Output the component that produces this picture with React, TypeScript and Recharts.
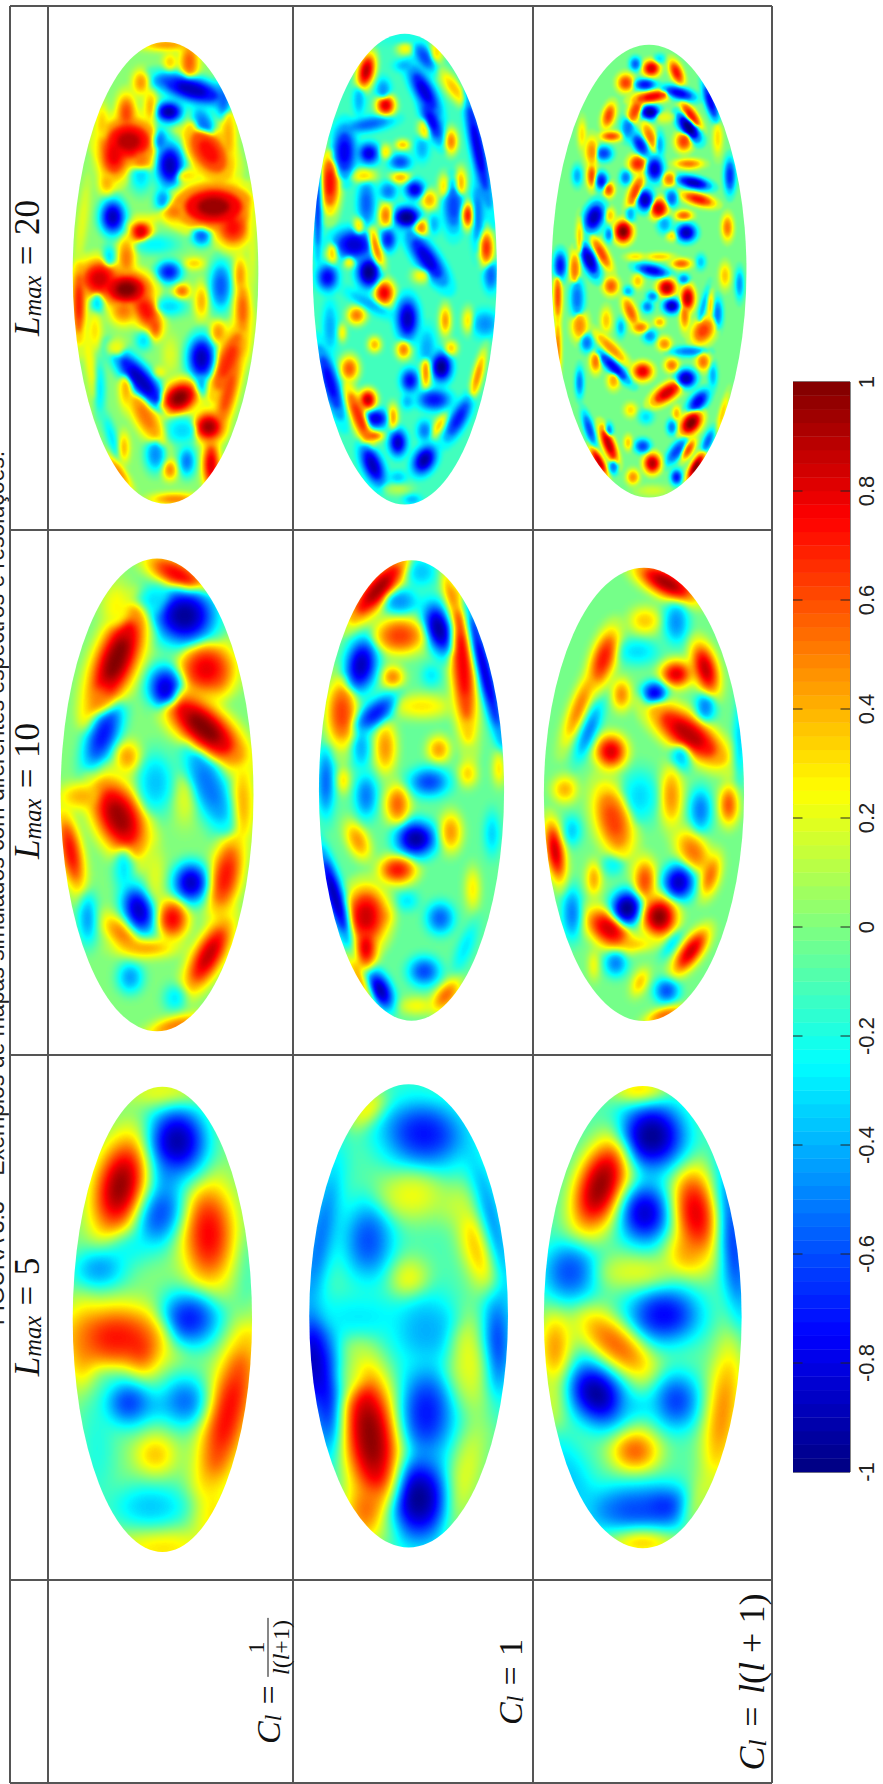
import { ReactNode } from 'react';
import { ScatterChart, Scatter, XAxis, YAxis, ReferenceArea } from 'recharts';

// one feature of a map: x, y, value, half length x, half length y, tilt
type Feature = [number, number, number, number, number, number?];

const XS = 1 / 2.063;
const YS = 1 / 2.904;
const PAD = 18;

// Lmax = 20
const mapA1: Feature[] = [
  [345,130,.45,40,12],[390,180,.55,14,40],[350,180,.35,10,18],[290,240,.45,12,25],[395,260,-.85,55,25,25],[345,235,-.6,20,14],
  [460,290,-.55,12,40],[348,325,-.9,20,22],[260,330,.6,14,40],[210,360,.35,10,40],[310,310,.4,10,35],[265,410,.85,40,45],
  [235,450,.75,22,50],[290,460,.5,20,30],[420,360,-.5,16,40,-15],[430,440,.7,30,60,-20],[470,400,.4,12,70],[350,480,-.85,20,45],
  [330,410,-.5,12,30],[220,530,.4,12,25],[290,510,-.3,16,35],[385,510,.3,25,15],[440,600,.9,55,45],[480,660,.7,25,40],
  [360,615,.5,20,22],[335,580,-.45,12,25],[232,630,-.85,18,35],[290,672,.8,16,25],[415,685,-.55,14,20],[320,710,-.25,35,20],
  [260,750,.5,13,45],[225,745,-.3,10,25],[348,790,-.7,18,22],[400,765,.35,15,12],[455,830,-.55,16,50],[495,800,.45,10,40],
  [260,840,.95,35,35],[205,810,.8,30,40],[300,900,.7,20,45,-15],[320,950,.6,10,25],[255,900,.5,20,30],[375,845,.55,12,15],
  [415,875,.4,10,35],[162,880,.7,10,80],[200,880,-.3,10,25],[350,890,-.3,25,20],[500,900,.55,12,60],[450,965,.45,12,25],
  [195,960,.3,10,40],[295,990,-.3,12,20],[415,1040,-.85,20,45],[415,1110,-.4,10,30],[470,1050,.65,20,80,15],[500,1000,.4,10,40],
  [290,1105,-.85,20,70,-30],[330,1080,.25,10,12],[370,1155,.95,25,35,25],[470,1140,.6,14,90,10],[205,1130,-.3,8,60],
  [300,1210,.5,18,60,-20],[260,1130,.4,10,40],[375,1250,-.3,25,30],[430,1240,.9,22,30],[435,1350,.8,12,50],[255,1300,.4,8,30],
  [320,1320,-.45,15,35],[385,1340,-.5,12,30],[350,1365,.5,10,20],[245,1370,.5,8,40,-25],[360,1450,.5,35,12],[230,1270,-.3,8,50,-12],
  [185,1050,.25,8,100,-6],[180,1220,.22,6,90,-10],[520,700,.2,6,120],[300,640,.25,30,10,-20],[170,640,.2,8,90,5],[240,1010,.22,14,20],[350,1030,.18,12,40],
];
const mapA2: Feature[] = [
  [835,110,-.2,40,15],[835,140,.25,12,14],[875,165,-.6,12,30,-20],[755,205,.85,12,35,8],[835,190,-.4,15,12],[900,150,.3,10,25],
  [935,255,.35,12,40,-25],[875,265,-.8,14,50,-20],[790,260,-.45,10,22],[740,290,-.4,8,30],[795,305,.8,13,20],[890,350,-.75,12,45,-15],
  [760,360,-.55,35,14,-15],[985,430,-.8,10,110,-8],[930,410,.5,9,25],[875,375,.3,9,25],[710,440,-.75,16,50],[760,445,-.8,14,20],
  [830,420,.4,10,10],[795,440,.3,8,15],[825,470,-.6,15,15],[870,430,-.4,10,25],[750,510,.3,18,15],[825,515,.4,14,12],
  [680,530,.7,14,60],[655,600,-.7,5,100],[855,550,-.8,13,18],[800,555,-.5,12,18],[885,580,.4,12,20],[915,540,.3,8,25],
  [950,530,.4,8,30],[755,590,-.55,12,45],[795,625,.5,10,25],[838,630,-1,18,20],[935,600,-.6,14,50],[965,625,.7,9,25],
  [868,660,.5,10,18],[895,650,-.4,8,20],[985,620,-.5,9,70],[740,655,.3,8,20],[730,710,-.8,28,30,-30],[800,695,-.7,11,22],
  [775,720,.5,9,45,-10],[1003,720,.65,10,35],[880,750,-.8,16,55,-25],[720,760,.3,8,12],[685,735,.35,8,22],[675,805,-.75,14,25],
  [760,790,-.95,16,30],[868,800,.25,13,15],[1012,800,-.55,10,30],[792,850,.75,14,25],[735,915,.5,13,18],[840,925,-.85,15,40],
  [918,930,.45,8,30],[965,930,.3,8,25],[1000,940,-.45,18,25],[760,880,-.4,40,12,40],[680,950,-.4,10,50],[705,965,.3,6,18],
  [772,1000,.4,9,15],[832,1015,.5,10,18],[880,1010,-.4,12,40],[930,1010,.35,9,15],[910,1065,-.95,14,28],[878,1080,.5,7,35],
  [720,1070,.55,13,25],[985,1090,.5,7,50,10],[845,1105,-.75,12,22],[680,1110,-.75,12,70,-12],[758,1160,.85,12,20],[895,1160,-.7,22,20],
  [840,1165,-.4,8,15],[775,1215,-.8,16,18],[810,1210,.45,7,25],[740,1210,.65,12,65,-15],[770,1265,.6,14,10],[945,1215,-.7,12,45,20],
  [875,1250,-.5,10,20],[820,1285,-.85,12,25],[905,1235,.35,8,25,20],[875,1335,-.9,15,28,15],[768,1350,-.85,14,40,-15],[820,1385,-.35,12,12],
  [850,1450,-.4,12,10],[820,1420,.1,20,12],
];
const mapA3: Feature[] = [
  [1343,198,.8,12,16],[1395,210,.7,9,25,-15],[1310,185,-.55,8,14],[1290,240,.6,12,18],[1330,245,-.7,15,12],[1360,170,-.3,8,10],
  [1345,280,.75,28,12,-15],[1400,270,-.75,25,12,25],[1465,295,-.75,8,40,-12],[1310,320,.6,10,30,15],[1340,325,-.9,14,15],[1255,335,.6,9,25,10],
  [1425,335,.7,9,30,-25],[1420,370,-.95,12,30,-25],[1370,340,.2,14,12],[1260,395,.6,15,10],[1295,370,-.5,10,25],[1340,395,.5,9,30,-15],
  [1320,420,-.7,10,25,-20],[1360,420,-.4,7,25],[1410,410,.6,12,20],[1220,440,.45,10,30],[1245,445,-.6,12,15],[1200,390,.3,6,30],
  [1315,475,.65,13,18],[1350,490,-.8,12,25],[1420,475,.5,20,10],[1480,400,.3,7,35],[1190,510,-.4,7,20],[1220,510,.6,7,25],
  [1240,525,-.7,9,18],[1290,515,-.5,8,15],[1380,520,.5,10,15],[1430,530,-.85,25,12,20],[1505,510,-.65,8,35],[1255,550,.6,8,15],
  [1310,555,.6,9,35,15],[1330,580,-.85,12,22],[1385,575,-.55,9,18],[1440,578,.7,25,12,25],[1358,605,.8,13,20],[1225,630,-.85,14,30,10],
  [1258,625,.35,7,15],[1300,620,-.4,7,18],[1410,625,.55,12,10],[1285,672,.95,13,22],[1415,675,-.85,14,18],[1370,650,-.4,10,18],
  [1255,680,-.5,6,15],[1500,660,.5,8,25],[1195,690,.35,5,40],[1385,685,.3,8,10],[1240,735,.6,9,35,-20],[1215,755,-.85,11,35,-15],
  [1155,770,-.7,9,28],[1185,780,.5,8,35],[1360,745,.35,20,8],[1310,745,.3,14,8],[1405,765,.55,14,10],[1345,785,-.75,24,12,20],
  [1445,760,-.35,7,15],[1495,800,.35,8,25],[1410,810,-.5,8,10],[1315,815,.35,8,15],[1260,830,.55,11,18],[1375,835,.85,13,18],
  [1295,845,-.4,7,10],[1525,825,-.45,6,30],[1345,860,-.5,8,10],[1418,865,.85,10,25],[1190,865,-.5,10,40],[1150,860,.6,6,50],
  [1385,888,-.85,12,15],[1335,890,-.5,8,12],[1300,905,.55,9,30,-15],[1412,915,.5,7,30],[1450,890,-.4,5,40,10],[1480,910,-.5,7,30],
  [1465,885,.35,5,30],[1250,930,.35,8,25],[1195,945,.45,12,30],[1450,960,.6,16,28,15],[1320,950,.5,12,12],[1360,935,.4,8,10],
  [1340,975,-.45,10,14],[1280,950,-.4,6,18],[1210,995,-.5,9,18],[1370,998,.45,10,14],[1260,1010,.45,10,40,-35],[1420,1020,-.5,25,10],
  [1150,1010,.5,5,60],[1228,1050,.5,8,22],[1265,1065,-.75,10,38,-35],[1385,1060,.5,10,14],[1450,1050,.5,10,18],[1325,1078,.75,14,18],
  [1415,1098,-.85,14,18],[1470,1090,-.4,6,25],[1265,1105,.4,9,18],[1375,1140,.8,14,30,40],[1195,1110,-.5,6,30],[1440,1165,-.75,12,25,25],
  [1300,1190,.3,9,14],[1332,1210,-.3,10,14],[1425,1228,.95,14,25,20],[1395,1200,.4,6,15],[1385,1240,-.5,7,15],[1215,1245,-.6,7,35,-12],
  [1255,1290,.85,9,38,-15],[1255,1250,-.5,6,15],[1325,1295,-.6,11,14],[1295,1285,.35,6,15],[1460,1280,-.55,7,25,15],[1395,1310,-.6,10,28,25],
  [1420,1305,.6,7,22,20],[1235,1340,.85,7,30,-20],[1345,1345,.85,12,20],[1265,1355,-.5,7,15],[1305,1385,.45,9,15],[1395,1385,-.7,8,15],
  [1435,1355,.95,8,30,20],[1345,1425,.15,25,12],[1490,1200,.35,5,40,10],
];

// Lmax = 10
const mapB1: Feature[] = [
  [365,215,.75,28,60,-50],[380,335,-.9,50,65],[320,290,-.3,30,40],[240,460,.95,35,120,15],[240,310,.25,25,60],[205,570,.5,20,60,20],
  [425,490,.75,45,60],[450,500,.6,20,50],[340,545,-.8,28,50],[212,680,-.7,25,80,15],[420,660,.95,40,95,-35],[262,745,.45,20,35],
  [320,820,-.35,30,70],[430,830,-.5,30,110,-15],[380,870,.18,18,60],[245,920,.9,40,90,-15],[170,860,.4,40,30],[145,1020,.75,18,90,-8],
  [500,880,.4,18,100],[465,1090,.7,25,90,8],[393,1110,-.85,28,45],[255,1070,-.3,16,60],[285,1190,-.85,25,55,-10],[180,1215,-.45,15,60],
  [355,1215,.75,25,45],[250,1260,.5,22,50,-30],[300,1300,.45,50,20],[430,1320,.85,25,85,20],[268,1385,-.45,20,35],[360,1445,-.3,18,30],
  [360,1525,.55,50,18,-25],[320,1090,.2,14,70],
];
const mapB2: Feature[] = [
  [780,260,.9,25,85,30],[870,210,-.35,25,35],[825,295,-.45,30,30],[825,395,.6,42,42],[905,375,-.9,22,60,-10],[955,480,.75,20,170,-3],
  [930,280,.5,10,60,-10],[1000,500,-.85,13,170,-10],[745,480,-.85,25,60,5],[810,515,.5,18,25],[890,510,-.3,16,25],[870,600,.28,50,28],
  [705,620,.6,25,80],[775,620,-.7,22,50,35],[745,720,-.4,16,50],[795,720,.45,18,60],[905,725,.45,18,30],[965,795,.35,15,30],
  [885,820,-.6,32,32],[1030,780,.35,10,40],[672,820,-.55,14,80],[708,815,.35,10,30],[755,860,-.5,18,50],[820,885,.55,20,45],
  [858,985,-.9,32,40],[930,965,.45,18,45],[738,990,.45,18,45,-15],[1015,970,-.35,12,50],[820,1075,.7,30,32],[690,1150,-.9,15,110,-12],
  [755,1210,.8,35,70],[755,1300,.8,18,50],[790,1210,.5,15,25],[840,1165,-.3,18,22],[908,1215,-.55,22,35],[975,1130,.3,12,50],
  [875,1370,-.6,25,32],[785,1425,-.9,18,45,-15],[745,1400,.55,8,70,-20],[920,1440,.55,18,40,25],[960,1300,-.3,13,60,15],[860,1470,.25,30,20],
];
const mapB3: Feature[] = [
  [1375,240,.9,28,60,-50],[1330,350,.35,25,30],[1395,355,-.45,20,50],[1245,460,.7,20,70,12],[1195,600,.5,15,90,15],[1315,440,-.3,35,30],
  [1395,505,.8,25,30],[1455,490,.85,20,60,-10],[1282,565,.5,15,35],[1350,560,-.8,20,25],[1455,600,-.5,16,35],[1420,680,.85,35,85,-40],
  [1215,670,-.5,14,70,15],[1260,730,.8,25,38],[1405,745,-.35,18,35],[1525,700,-.4,8,100],[1165,840,.4,20,30],[1320,860,-.3,30,60],
  [1385,860,.45,18,70],[1445,900,-.5,18,50],[1503,885,.6,15,45],[1265,930,.6,30,85,-10],[1145,1020,.85,15,70,-6],[1180,960,-.35,15,35],
  [1430,1020,.5,25,50,-20],[1465,1090,.55,15,50,10],[1265,1060,-.25,20,25],[1225,1100,.45,12,40],[1330,1105,.6,18,50],[1400,1110,-.85,25,40],
  [1293,1185,-.95,25,40],[1180,1200,-.5,16,60],[1360,1210,.95,28,45],[1255,1245,.8,30,50,-30],[1300,1290,.4,40,15],[1425,1310,.85,18,55,25],
  [1385,1290,-.35,10,35,25],[1270,1345,-.5,18,30],[1225,1350,.3,8,35],[1320,1400,.4,12,32,15],[1375,1425,-.6,20,28],[1370,1495,.6,14,35,60],
];

// Lmax = 5
const mapC1: Feature[] = [
  [247,540,.95,42,115,8],[365,410,-.9,50,85],[330,620,-.6,38,80,10],[345,500,-.5,30,60],[430,680,.75,42,120],[205,780,-.45,45,50,30],
  [270,720,-.25,40,40],[390,925,-.7,50,65],[240,980,.7,85,75],[170,1000,.5,25,100],[290,1010,.7,30,60],[265,1170,-.65,40,55],
  [380,1165,-.55,40,60],[320,1180,-.4,30,30],[470,1200,.75,35,200,10],[320,1320,.4,32,45],[310,1470,-.35,70,55],[335,1590,.3,80,45],
  [335,270,.25,60,30],[440,1500,.3,30,100],[200,1300,-.2,30,150],[510,800,-.15,14,100],[230,1085,-.25,40,12,-5],
];
const mapC2: Feature[] = [
  [760,320,.4,18,50,30],[875,390,-.7,70,80,-20],[850,570,.22,60,60],[950,600,.15,40,50],[985,720,.42,25,110,-10],[760,700,-.6,40,90],
  [845,810,.25,32,50],[660,700,-.6,20,200,8],[645,1050,-.9,30,130],[680,1150,-.8,20,150],[1025,1000,-.7,22,130],[1015,650,-.65,14,180,-10],
  [740,920,-.28,90,50],[880,960,-.4,60,90],[970,1050,.2,40,130,-5],[765,1270,1,45,170,-5],[755,1480,.55,35,80],[880,1200,-.7,45,110],
  [865,1450,-.95,50,100],[960,1380,.2,28,140,10],[720,1100,.1,30,60],[850,260,-.2,60,30],[800,1530,0,16,50],
];
const mapC3: Feature[] = [
  [1320,265,.45,45,25],[1345,395,-.95,55,80],[1238,540,1,40,110,12],[1330,620,-.85,42,70],[1435,620,.8,38,110,-5],[1420,730,.45,38,60],
  [1175,790,-.6,45,70],[1510,700,-.75,20,190,-5],[1310,790,.2,70,40],[1370,915,-.75,60,65],[1270,1000,.55,40,100,-35],[1145,1010,.5,25,90],
  [1230,1145,-.95,45,75,-15],[1395,1165,-.65,38,65],[1310,1180,-.35,30,30],[1310,1310,.6,40,50],[1490,1200,.5,28,180,5],[1320,1480,-.6,100,60],
  [1370,1470,-.7,45,45],[1140,1150,.2,20,100],[1180,1400,-.35,35,120,-15],[1325,1570,.45,60,30],[1440,1450,.2,20,90,15],
];

const maps = [
  { name: 'A1', features: mapA1, base: 0.02, xr: [150, 533], yr: [122, 1463], off: 0, blur: 2.4, grow: 1.2 },
  { name: 'A2', features: mapA2, base: -0.12, xr: [645, 1025], yr: [98, 1465], off: 0, blur: 2.2, grow: 1.25 },
  { name: 'A3', features: mapA3, base: -0.02, xr: [1138, 1540], yr: [130, 1445], off: 0, blur: 1.8, grow: 1.25 },
  { name: 'B1', features: mapB1, base: 0, xr: [125, 523], yr: [170, 1543], off: 500, blur: 4.5, grow: 1.05 },
  { name: 'B2', features: mapB2, base: -0.05, xr: [658, 1040], yr: [175, 1512], off: 500, blur: 3.8, grow: 1.05 },
  { name: 'B3', features: mapB3, base: -0.02, xr: [1122, 1535], yr: [197, 1513], off: 500, blur: 3.6, grow: 1.05 },
  { name: 'C1', features: mapC1, base: 0, xr: [150, 520], yr: [252, 1603], off: 1000, blur: 8, grow: 1 },
  { name: 'C2', features: mapC2, base: -0.1, xr: [638, 1048], yr: [245, 1590], off: 1000, blur: 8, grow: 1 },
  { name: 'C3', features: mapC3, base: -0.08, xr: [1122, 1530], yr: [250, 1592], off: 1000, blur: 8, grow: 1 },
];

// halo to peak: size of the ellipse, share of the value it reaches, opacity
const layers = [
  { size: 1.75, level: 0.32, opacity: 0.6 },
  { size: 1.3, level: 0.55, opacity: 0.85 },
  { size: 0.9, level: 0.85, opacity: 1 },
  { size: 0.5, level: 1.05, opacity: 1 },
];

const colorbarLevels = [
  -0.9875, -0.9625, -0.9375, -0.9125, -0.8875, -0.8625, -0.8375, -0.8125, -0.7875, -0.7625, -0.7375, -0.7125, -0.6875, -0.6625,
  -0.6375, -0.6125, -0.5875, -0.5625, -0.5375, -0.5125, -0.4875, -0.4625, -0.4375, -0.4125, -0.3875, -0.3625, -0.3375, -0.3125,
  -0.2875, -0.2625, -0.2375, -0.2125, -0.1875, -0.1625, -0.1375, -0.1125, -0.0875, -0.0625, -0.0375, -0.0125, 0.0125, 0.0375,
  0.0625, 0.0875, 0.1125, 0.1375, 0.1625, 0.1875, 0.2125, 0.2375, 0.2625, 0.2875, 0.3125, 0.3375, 0.3625, 0.3875, 0.4125, 0.4375,
  0.4625, 0.4875, 0.5125, 0.5375, 0.5625, 0.5875, 0.6125, 0.6375, 0.6625, 0.6875, 0.7125, 0.7375, 0.7625, 0.7875, 0.8125, 0.8375,
  0.8625, 0.8875, 0.9125, 0.9375, 0.9625, 0.9875,
];
const colorbarTicks = [-1, -0.8, -0.6, -0.4, -0.2, 0, 0.2, 0.4, 0.6, 0.8, 1];

const vLines = [10, 48, 293, 533, 772];
const hLines = [6, 530, 1055, 1580, 1783];

const clamp = (n: number) => Math.max(0, Math.min(1, n));
function jet(t: number) {
  return [
    clamp(Math.min(4 * t - 1.5, -4 * t + 4.5)),
    clamp(Math.min(4 * t - 0.5, -4 * t + 3.5)),
    clamp(Math.min(4 * t + 0.5, -4 * t + 2.5)),
  ];
}
const jetCss = (v: number) => {
  const [r, g, b] = jet((v + 1) / 2);
  return `rgb(${Math.round(r * 255)},${Math.round(g * 255)},${Math.round(b * 255)})`;
};
const gray = (v: number) => {
  const g = Math.round(((Math.max(-1, Math.min(1, v)) + 1) / 2) * 255);
  return `rgb(${g},${g},${g})`;
};
// lookup tables used by the svg filter to turn the gray field into jet
const tableSteps = Array.from({ length: 129 }, (_, i) => jet(i / 128));
const table = (c: number) => tableSteps.map((s) => s[c].toFixed(3)).join(' ');

function JetFilter({ id, blur }: { id: string; blur: number }) {
  return (
    <filter id={id} x="0" y="0" width="100%" height="100%" colorInterpolationFilters="sRGB">
      <feGaussianBlur stdDeviation={blur} edgeMode="duplicate" />
      <feComponentTransfer>
        <feFuncR type="table" tableValues={table(0)} />
        <feFuncG type="table" tableValues={table(1)} />
        <feFuncB type="table" tableValues={table(2)} />
      </feComponentTransfer>
    </filter>
  );
}

function MapChart({ m }: { m: (typeof maps)[number] }) {
  const w = (m.xr[1] - m.xr[0]) * XS;
  const h = (m.yr[1] - m.yr[0]) * YS;
  const left = m.xr[0] * XS - PAD;
  const top = m.off + m.yr[0] * YS - PAD;
  const data = [...m.features]
    .sort((a, b) => Math.abs(a[2]) - Math.abs(b[2]))
    .map(([x, y, v, rx, ry, a]) => ({ x, y, v, rx, ry, a: a ?? 0 }));
  return (
    <div
      style={{
        position: 'absolute',
        left,
        top,
        width: w + 2 * PAD,
        height: h + 2 * PAD,
        clipPath: `ellipse(${w / 2}px ${h / 2}px at 50% 50%)`,
      }}
    >
      <div style={{ filter: `url(#jet-${m.name})`, background: gray(m.base), width: w + 2 * PAD, height: h + 2 * PAD }}>
        <ScatterChart width={w + 2 * PAD} height={h + 2 * PAD} margin={{ top: 0, right: 0, bottom: 0, left: 0 }}>
          <XAxis type="number" dataKey="x" hide allowDataOverflow domain={[m.xr[0] - PAD / XS, m.xr[1] + PAD / XS]} />
          <YAxis type="number" dataKey="y" hide allowDataOverflow reversed domain={[m.yr[0] - PAD / YS, m.yr[1] + PAD / YS]} />
          {layers.map((l, i) => (
            <Scatter
              key={i}
              data={data}
              isAnimationActive={false}
              shape={(p: any) => {
                const d = p.payload;
                return (
                  <g transform={`translate(${p.cx},${p.cy}) scale(${XS},${YS}) rotate(${d.a})`}>
                    <ellipse
                      rx={d.rx * l.size * m.grow}
                      ry={d.ry * l.size * m.grow}
                      fill={gray(m.base + (d.v - m.base) * l.level)}
                      fillOpacity={l.opacity}
                    />
                  </g>
                );
              }}
            />
          ))}
        </ScatterChart>
      </div>
    </div>
  );
}

function Colorbar() {
  const levels = colorbarLevels.map((y) => ({ x: 0.5, y }));
  const ticks = colorbarTicks.slice(1, -1).map((y) => ({ x: 0.5, y }));
  return (
    <div style={{ position: 'absolute', left: 793, top: 362 }}>
      <ScatterChart width={90} height={1130} margin={{ top: 20, right: 0, bottom: 20, left: 0 }}>
        <XAxis type="number" dataKey="x" hide domain={[0, 1]} />
        <YAxis
          type="number"
          dataKey="y"
          orientation="right"
          width={33}
          domain={[-1, 1]}
          ticks={colorbarTicks}
          interval={0}
          axisLine={false}
          tickLine={false}
          tick={(p: any) => (
            <text
              x={p.x + 8}
              y={p.y}
              transform={`rotate(-90 ${p.x + 8} ${p.y})`}
              textAnchor="middle"
              dominantBaseline="central"
              fontFamily="Liberation Sans"
              fontSize={22}
              fill="#222"
            >
              {p.payload.value}
            </text>
          )}
        />
        <Scatter
          data={levels}
          isAnimationActive={false}
          shape={(p: any) => <rect x={p.cx - 28.5} y={p.cy - 7} width={57} height={14} fill={jetCss(p.payload.y)} />}
        />
        <Scatter
          data={ticks}
          isAnimationActive={false}
          shape={(p: any) => (
            <g stroke="#222" strokeWidth={1}>
              <line x1={p.cx - 28.5} x2={p.cx - 19} y1={p.cy} y2={p.cy} />
              <line x1={p.cx + 19} x2={p.cx + 28.5} y1={p.cy} y2={p.cy} />
            </g>
          )}
        />
        <ReferenceArea x1={0} x2={1} y1={-1} y2={1} fill="none" stroke="#111" strokeWidth={1} />
      </ScatterChart>
    </div>
  );
}

function Rotated({ x, y, size, children }: { x: number; y: number; size: number; children: ReactNode }) {
  return (
    <div
      style={{
        position: 'absolute',
        left: x,
        top: y,
        transform: 'translate(-50%,-50%) rotate(-90deg)',
        fontFamily: 'Liberation Serif',
        fontSize: size,
        lineHeight: 1,
        whiteSpace: 'nowrap',
        color: '#111',
        display: 'flex',
        alignItems: 'center',
      }}
    >
      {children}
    </div>
  );
}

const Sub = ({ children }: { children: ReactNode }) => (
  <i style={{ fontSize: '0.7em', position: 'relative', top: '0.22em' }}>{children}</i>
);

function LmaxLabel({ y, value }: { y: number; value: string }) {
  return (
    <Rotated x={27} y={y} size={35}>
      <i>L</i>
      <Sub>max</Sub>
      <span style={{ margin: '0 0.3em' }}>=</span>
      <span>{value}</span>
    </Rotated>
  );
}

export default function App() {
  return (
    <div style={{ position: 'absolute', left: 0, top: 0, width: 883, height: 1784, overflow: 'hidden', background: '#fff' }}>
      <svg width={0} height={0} style={{ position: 'absolute' }}>
        <defs>
          {maps.map((m) => (
            <JetFilter key={m.name} id={`jet-${m.name}`} blur={m.blur} />
          ))}
        </defs>
      </svg>

      <div
        style={{
          position: 'absolute',
          left: 0,
          top: 888,
          transform: 'translate(-50%,-50%) rotate(-90deg) translateY(-4px)',
          fontFamily: 'Liberation Sans',
          fontSize: 23,
          whiteSpace: 'nowrap',
          color: '#222',
        }}
      >
        FIGURA 3.3 – Exemplos de mapas simulados com diferentes espectros e resoluções.
      </div>

      {vLines.map((x) => (
        <div key={x} style={{ position: 'absolute', left: x - 1, top: 6, width: 1.5, height: 1777, background: '#555' }} />
      ))}
      {hLines.map((y) => (
        <div key={y} style={{ position: 'absolute', left: 10, top: y - 1, width: 762, height: 1.5, background: '#555' }} />
      ))}

      {maps.map((m) => (
        <MapChart key={m.name} m={m} />
      ))}

      <LmaxLabel y={268} value="20" />
      <LmaxLabel y={791} value="10" />
      <LmaxLabel y={1317} value="5" />

      <Rotated x={268} y={1682} size={34}>
        <i>C</i>
        <Sub>l</Sub>
        <span style={{ margin: '0 0.3em' }}>=</span>
        <span style={{ display: 'inline-flex', flexDirection: 'column', alignItems: 'center', fontSize: 24 }}>
          <span style={{ borderBottom: '1px solid #111', padding: '0 2px', textAlign: 'center', width: '100%' }}>1</span>
          <span><i>l</i>(<i>l</i>+1)</span>
        </span>
      </Rotated>
      <Rotated x={511} y={1682} size={34}>
        <i>C</i>
        <Sub>l</Sub>
        <span style={{ margin: '0 0.3em' }}>=</span>
        <span>1</span>
      </Rotated>
      <Rotated x={752} y={1682} size={36}>
        <i>C</i>
        <Sub>l</Sub>
        <span style={{ margin: '0 0.35em' }}>=</span>
        <span><i>l</i>(<i>l</i> + 1)</span>
      </Rotated>

      <Colorbar />
    </div>
  );
}
